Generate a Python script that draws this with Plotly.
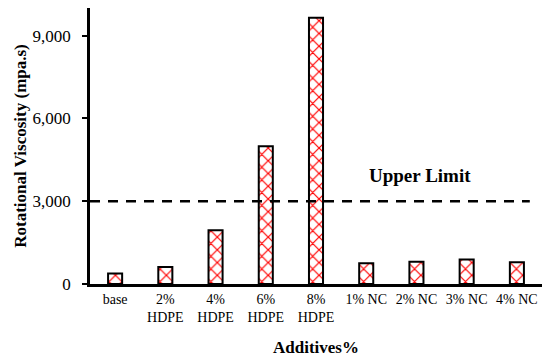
import plotly.graph_objects as go

categories = ["base", "2%<br>HDPE", "4%<br>HDPE", "6%<br>HDPE", "8%<br>HDPE",
              "1% NC", "2% NC", "3% NC", "4% NC"]
viscosity = [380, 620, 1950, 4990, 9650, 750, 810, 890, 785]
upper_limit = 3000
y_ticks = [0, 3000, 6000, 9000]
y_ticklabels = ["0", "3,000", "6,000", "9,000"]

font = "Liberation Serif, Times New Roman, serif"

fig = go.Figure()
fig.add_trace(go.Bar(
    x=categories, y=viscosity, width=0.28,
    marker=dict(color="white", line=dict(color="black", width=2),
                pattern=dict(shape="x", fgcolor="red", bgcolor="white", size=9,
                             solidity=0.25, fgopacity=1)),
))
fig.add_shape(type="line", xref="paper", yref="y", x0=0, x1=0.973,
              y0=upper_limit, y1=upper_limit,
              line=dict(color="black", width=2.5, dash="10px,8px"))
fig.add_annotation(x=0.73, xref="paper", xanchor="center", y=upper_limit, yref="y", yshift=26,
                   text="<b>Upper Limit</b>", showarrow=False,
                   font=dict(family=font, size=19, color="black"))
fig.update_layout(
    width=542, height=356,
    margin=dict(l=82, r=8, t=0, b=80),
    plot_bgcolor="white", paper_bgcolor="white",
    showlegend=False,
    font=dict(family=font, size=14, color="black"),
    xaxis=dict(showline=True, linecolor="black", linewidth=2.5, ticks="",
               tickfont=dict(size=14), automargin=False, range=[-0.5, 8.5],
               title=dict(text="<b>Additives%</b>", font=dict(size=17), standoff=18)),
    yaxis=dict(range=[0, 10000], tickvals=y_ticks, ticktext=y_ticklabels,
               showline=True, linecolor="black", linewidth=2.5, ticks="outside",
               ticklen=5, tickwidth=2, tickcolor="black", showgrid=False,
               zeroline=False, tickfont=dict(size=17), automargin=False,
               ticklabelstandoff=8,
               title=dict(text="<b>Rotational Viscosity (mpa.s)</b>", font=dict(size=17), standoff=2)),
)
fig.write_html("out.html")
